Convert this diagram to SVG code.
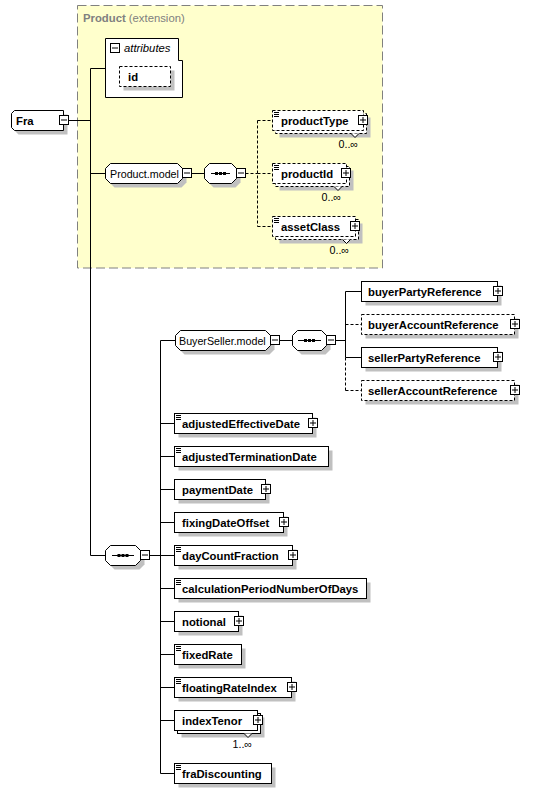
<svg xmlns="http://www.w3.org/2000/svg" xmlns:xlink="http://www.w3.org/1999/xlink" width="543" height="793" viewBox="0 0 543 793">
<style>
.bx{fill:#fff;stroke:#000;stroke-width:1}
.db{fill:#fff;stroke:#000;stroke-width:1;stroke-dasharray:3,2}
.sh{fill:#c0c0c0;stroke:none}
.ln{fill:none;stroke:#000;stroke-width:1}
.dl{fill:none;stroke:#000;stroke-width:1;stroke-dasharray:3,2}
.t{font-family:"Liberation Sans",Arial,sans-serif;font-size:11.3px;font-weight:bold;fill:#000}
.n{font-family:"Liberation Sans",Arial,sans-serif;font-size:10.7px;fill:#000}
.i{font-family:"Liberation Sans",Arial,sans-serif;font-size:11.3px;font-style:italic;fill:#000}
.g{font-family:"Liberation Sans",Arial,sans-serif;font-size:11.3px;fill:#808080}
.v{fill:#fff;stroke:#000;stroke-width:1}
</style>
<defs>
<g id="minus"><rect x="0.5" y="0.5" width="9" height="9" fill="#fff" stroke="#000"/><path d="M2,5H8" stroke="#000"/></g>
<g id="plus"><rect x="0.5" y="0.5" width="9" height="9" fill="#fff" stroke="#000"/><path d="M2,5H8M5,2V8" stroke="#000"/></g>
<g id="eq"><path d="M0,0.5H5M0,2.5H5M0,4.5H5" stroke="#000"/></g>
<g id="dots"><rect x="0" y="0" width="3" height="3" fill="#000"/><rect x="4" y="0" width="3" height="3" fill="#000"/><rect x="8" y="0" width="3" height="3" fill="#000"/></g>
</defs>

<g id="extension">
<rect x="77.5" y="5.5" width="305" height="262.5" fill="#ffffcc" stroke="#808080" stroke-dasharray="9,4"/>
<text x="83" y="22" class="g"><tspan font-weight="bold">Product</tspan> (extension)</text>
</g>

<g id="connectors">
<path class="ln" d="M68.5,120.5H90.5M90.5,68.5V555.5M90.5,68.5H105.5M90.5,173.5H105.5M191.5,173.5H204.5M90.5,555.5H105.5M148.5,555.5H160.5"/>
<path class="dl" d="M245.5,173.5H257.5M257.5,120.5V226.5M257.5,120.5H272.5M257.5,173.5H272.5M257.5,226.5H272.5"/>
<path class="ln" d="M160.5,340.5V773.5M160.5,340.5H175.5M278.5,340.5H292.5M334.5,340.5H345.5M345.5,291.5V357.5M345.5,291.5H361.5M345.5,357.5H361.5"/>
<path class="dl" d="M345.5,357.5V390.5M345.5,324.5H361.5M345.5,390.5H361.5"/>
<path class="ln" d="M160.5,423.5H174.5M160.5,456.5H174.5M160.5,489.5H174.5M160.5,522.5H174.5M160.5,555.5H174.5M160.5,588.5H174.5M160.5,621.5H174.5M160.5,654.5H174.5M160.5,687.5H174.5M160.5,720.5H174.5M160.5,773.5H174.5"/>
</g>

<g id="Fra">
<path class="sh" d="M18.5,114.5H67.5V134.5H18.5L15.5,131.5V117.5Z"/>
<path class="bx" d="M14.5,110.5H63.5V130.5H14.5L11.5,127.5V113.5Z"/>
<text x="16" y="125" class="t">Fra</text>
<use xlink:href="#minus" x="59" y="115"/>
</g>

<g id="attributes">
<polygon class="bx" points="105.5,38.5 178.5,38.5 178.5,60.5 182.5,60.5 182.5,97.5 105.5,97.5"/>
<use xlink:href="#minus" x="110" y="43"/>
<text x="124" y="52" class="i">attributes</text>
</g>

<g id="id">
<rect class="sh" x="123.5" y="70.5" width="51" height="20"/>
<rect class="db" x="119.5" y="66.5" width="51" height="20"/>
<text x="128" y="81" class="t">id</text>
</g>

<g id="Product.model">
<path class="sh" d="M114.5,167.5H181.5L186.5,172.5V182.5L181.5,187.5H114.5L109.5,182.5V172.5Z"/>
<path class="bx" d="M110.5,163.5H177.5L182.5,168.5V178.5L177.5,183.5H110.5L105.5,178.5V168.5Z"/>
<text x="110" y="177.5" class="n">Product.model</text>
<use xlink:href="#minus" x="182" y="168"/>
</g>

<g id="seq1">
<path class="sh" d="M213.5,167.5H235.5L240.5,172.5V182.5L235.5,187.5H213.5L208.5,182.5V172.5Z"/>
<path class="bx" d="M209.5,163.5H231.5L236.5,168.5V178.5L231.5,183.5H209.5L204.5,178.5V168.5Z"/>
<path class="ln" d="M211,173.5H230"/>
<use xlink:href="#dots" x="215" y="172"/>
<use xlink:href="#minus" x="236" y="168"/>
</g>

<g id="productType">
<rect class="sh" x="279.5" y="117.5" width="91" height="20"/>
<rect class="db" x="275.5" y="113.5" width="91" height="20"/>
<rect class="db" x="272.5" y="110.5" width="91" height="20"/>
<path class="v" d="M351,133.5L355,137.5L359,133.5"/>
<use xlink:href="#eq" x="274" y="112"/>
<text x="281" y="124.5" class="t">productType</text>
<use xlink:href="#plus" x="358" y="115"/>
<text x="358" y="148" class="n" text-anchor="end">0..∞</text>
</g>

<g id="productId">
<rect class="sh" x="279.5" y="170.5" width="74" height="20"/>
<rect class="db" x="275.5" y="166.5" width="74" height="20"/>
<rect class="db" x="272.5" y="163.5" width="74" height="20"/>
<path class="v" d="M334,186.5L338,190.5L342,186.5"/>
<use xlink:href="#eq" x="274" y="165"/>
<text x="281" y="177.5" class="t">productId</text>
<use xlink:href="#plus" x="341" y="168"/>
<text x="341" y="201" class="n" text-anchor="end">0..∞</text>
</g>

<g id="assetClass">
<rect class="sh" x="279.5" y="223.5" width="83" height="20"/>
<rect class="db" x="275.5" y="219.5" width="83" height="20"/>
<rect class="db" x="272.5" y="216.5" width="83" height="20"/>
<path class="v" d="M342.5,239.5L346.5,243.5L350.5,239.5"/>
<use xlink:href="#eq" x="274" y="218"/>
<text x="281" y="230.5" class="t">assetClass</text>
<use xlink:href="#plus" x="350" y="221"/>
<text x="349" y="254" class="n" text-anchor="end">0..∞</text>
</g>

<g id="seq2">
<path class="sh" d="M114.5,549.5H139.5L144.5,554.5V564.5L139.5,569.5H114.5L109.5,564.5V554.5Z"/>
<path class="bx" d="M110.5,545.5H135.5L140.5,550.5V560.5L135.5,565.5H110.5L105.5,560.5V550.5Z"/>
<path class="ln" d="M112,555.5H134"/>
<use xlink:href="#dots" x="117.5" y="554"/>
<use xlink:href="#minus" x="140" y="550"/>
</g>

<g id="BuyerSeller.model">
<path class="sh" d="M184.5,334.5H269.5L274.5,339.5V349.5L269.5,354.5H184.5L179.5,349.5V339.5Z"/>
<path class="bx" d="M180.5,330.5H265.5L270.5,335.5V345.5L265.5,350.5H180.5L175.5,345.5V335.5Z"/>
<text x="179" y="344.5" class="n">BuyerSeller.model</text>
<use xlink:href="#minus" x="270" y="335"/>
</g>

<g id="seq3">
<path class="sh" d="M301.5,334.5H325.5L330.5,339.5V349.5L325.5,354.5H301.5L296.5,349.5V339.5Z"/>
<path class="bx" d="M297.5,330.5H321.5L326.5,335.5V345.5L321.5,350.5H297.5L292.5,345.5V335.5Z"/>
<path class="ln" d="M298,340.5H321"/>
<use xlink:href="#dots" x="304" y="339"/>
<use xlink:href="#minus" x="326" y="335"/>
</g>

<g id="buyerPartyReference">
<rect class="sh" x="365.5" y="285.5" width="136" height="20"/>
<rect class="bx" x="361.5" y="281.5" width="136" height="20"/>
<text x="368" y="295.5" class="t">buyerPartyReference</text>
<use xlink:href="#plus" x="493" y="286"/>
</g>

<g id="buyerAccountReference">
<rect class="sh" x="365.5" y="318.5" width="153" height="20"/>
<rect class="db" x="361.5" y="314.5" width="153" height="20"/>
<text x="368" y="328.5" class="t">buyerAccountReference</text>
<use xlink:href="#plus" x="510" y="319"/>
</g>

<g id="sellerPartyReference">
<rect class="sh" x="365.5" y="351.5" width="136" height="20"/>
<rect class="bx" x="361.5" y="347.5" width="136" height="20"/>
<text x="368" y="361.5" class="t">sellerPartyReference</text>
<use xlink:href="#plus" x="493" y="352"/>
</g>

<g id="sellerAccountReference">
<rect class="sh" x="365.5" y="384.5" width="153" height="20"/>
<rect class="db" x="361.5" y="380.5" width="153" height="20"/>
<text x="368" y="394.5" class="t">sellerAccountReference</text>
<use xlink:href="#plus" x="510" y="385"/>
</g>

<g id="adjustedEffectiveDate">
<rect class="sh" x="178.5" y="417.5" width="138" height="20"/>
<rect class="bx" x="174.5" y="413.5" width="138" height="20"/>
<use xlink:href="#eq" x="176" y="415"/>
<text x="182" y="427.5" class="t">adjustedEffectiveDate</text>
<use xlink:href="#plus" x="308" y="418"/>
</g>

<g id="adjustedTerminationDate">
<rect class="sh" x="178.5" y="450.5" width="154" height="20"/>
<rect class="bx" x="174.5" y="446.5" width="154" height="20"/>
<use xlink:href="#eq" x="176" y="448"/>
<text x="182" y="460.5" class="t">adjustedTerminationDate</text>
</g>

<g id="paymentDate">
<rect class="sh" x="178.5" y="483.5" width="91" height="20"/>
<rect class="bx" x="174.5" y="479.5" width="91" height="20"/>
<text x="182" y="493.5" class="t">paymentDate</text>
<use xlink:href="#plus" x="261" y="484"/>
</g>

<g id="fixingDateOffset">
<rect class="sh" x="178.5" y="516.5" width="109" height="20"/>
<rect class="bx" x="174.5" y="512.5" width="109" height="20"/>
<text x="182" y="526.5" class="t">fixingDateOffset</text>
<use xlink:href="#plus" x="279" y="517"/>
</g>

<g id="dayCountFraction">
<rect class="sh" x="178.5" y="549.5" width="118" height="20"/>
<rect class="bx" x="174.5" y="545.5" width="118" height="20"/>
<use xlink:href="#eq" x="176" y="547"/>
<text x="182" y="559.5" class="t">dayCountFraction</text>
<use xlink:href="#plus" x="288" y="550"/>
</g>

<g id="calculationPeriodNumberOfDays">
<rect class="sh" x="178.5" y="582.5" width="192" height="20"/>
<rect class="bx" x="174.5" y="578.5" width="192" height="20"/>
<use xlink:href="#eq" x="176" y="580"/>
<text x="182" y="592.5" class="t">calculationPeriodNumberOfDays</text>
</g>

<g id="notional">
<rect class="sh" x="178.5" y="615.5" width="64" height="20"/>
<rect class="bx" x="174.5" y="611.5" width="64" height="20"/>
<text x="182" y="625.5" class="t">notional</text>
<use xlink:href="#plus" x="234" y="616"/>
</g>

<g id="fixedRate">
<rect class="sh" x="178.5" y="648.5" width="67" height="20"/>
<rect class="bx" x="174.5" y="644.5" width="67" height="20"/>
<use xlink:href="#eq" x="176" y="646"/>
<text x="182" y="658.5" class="t">fixedRate</text>
</g>

<g id="floatingRateIndex">
<rect class="sh" x="178.5" y="681.5" width="117" height="20"/>
<rect class="bx" x="174.5" y="677.5" width="117" height="20"/>
<use xlink:href="#eq" x="176" y="679"/>
<text x="182" y="691.5" class="t">floatingRateIndex</text>
<use xlink:href="#plus" x="287" y="682"/>
</g>

<g id="indexTenor">
<rect class="sh" x="181.5" y="717.5" width="83" height="20"/>
<rect class="bx" x="177.5" y="713.5" width="83" height="20"/>
<rect class="bx" x="174.5" y="710.5" width="83" height="20"/>
<path class="v" d="M244,733.5L248,737.5L252,733.5"/>
<text x="182" y="724.5" class="t">indexTenor</text>
<use xlink:href="#plus" x="253" y="715"/>
<text x="252" y="748" class="n" text-anchor="end">1..∞</text>
</g>

<g id="fraDiscounting">
<rect class="sh" x="178.5" y="767.5" width="97" height="20"/>
<rect class="bx" x="174.5" y="763.5" width="97" height="20"/>
<use xlink:href="#eq" x="176" y="765"/>
<text x="182" y="777.5" class="t">fraDiscounting</text>
</g>
</svg>
